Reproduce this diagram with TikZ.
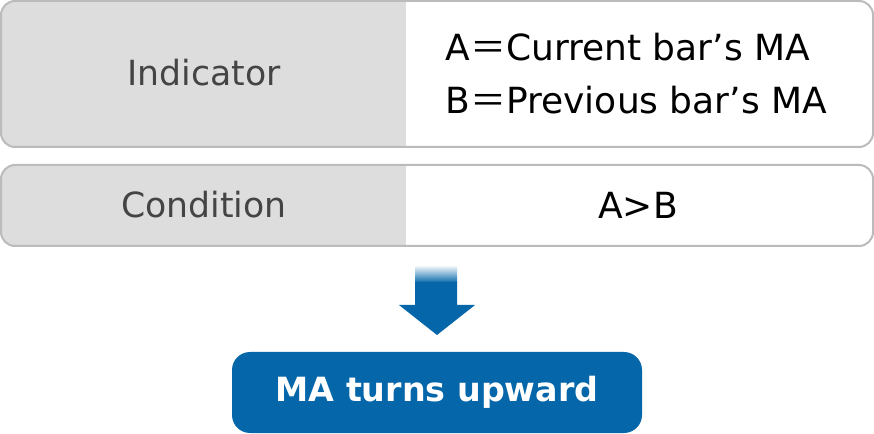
\documentclass[tikz,border=0pt]{standalone}
\usepackage{fontspec}
\setmainfont{DejaVu Sans}
\newfontfamily\cjk{Noto Sans CJK JP}
\definecolor{framegray}{HTML}{BBBBBB}
\definecolor{cellgray}{HTML}{DDDDDD}
\definecolor{labelgray}{HTML}{444444}
\definecolor{mablue}{HTML}{0567AA}
\tikzset{
  rowframe/.style={draw=framegray,line width=1.5pt,rounded corners=10.5pt,fill=white,
    minimum width=654pt,inner sep=0pt,
    path picture={\fill[cellgray,sharp corners] (path picture bounding box.north west) rectangle ([xshift=303.75pt]path picture bounding box.south west);}},
  cell/.style={font=\fontsize{26}{30}\selectfont,text=labelgray},
  value/.style={font=\fontsize{27}{32}\selectfont,text=black},
}
\begin{document}
\begin{tikzpicture}[x=0.75pt,y=-0.75pt]
    \useasboundingbox (0,0) rectangle (874,434);
    % rows
    \node[rowframe,minimum height=109.5pt] (indrow) at (437,74) {};
    \node[rowframe,minimum height=60.75pt] (condrow) at (437,205.5) {};
    \node[cell] (ind) at (204,73) {Indicator};
    \node[value,align=left,anchor=west] (defA) at (441,47) {A{\cjk ＝}Current bar’s MA};
    \node[value,align=left,anchor=west] (defB) at (441,100) {B{\cjk ＝}Previous bar’s MA};
    \node[cell] (cond) at (204,205) {Condition};
    \node[value] (rule) at (638,205) {A>B};
    % result
    \node[fill=mablue,rounded corners=13.5pt,minimum width=307.5pt,minimum height=60.75pt,
          text=white,font=\fontsize{25}{30}\selectfont\bfseries] (result) at (437,392.5) {MA turns upward};
    % arrow
    \shade[top color=white,bottom color=mablue] (415,265) rectangle (457,283);
    \fill[mablue] (415,282) -- (457,282) -- (457,305) -- (475,305) -- (437,335) -- (399,305) -- (415,305) -- cycle;
\end{tikzpicture}
\end{document}
